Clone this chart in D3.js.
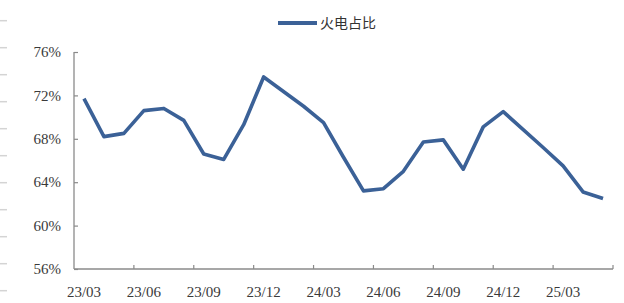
<!DOCTYPE html>
<html>
<head>
<meta charset="utf-8">
<script src="https://cdn.jsdelivr.net/npm/d3@7"></script>
<style>
body { margin: 0; background: #fff; }
svg { display: block; }
</style>
</head>
<body>
<div id="chart"></div>
<script>
// monthly thermal power share (%), Jan not published (Jan-Feb combined)
var months = ["23/03","23/04","23/05","23/06","23/07","23/08","23/09","23/10","23/11","23/12",
	"24/01","24/02","24/03","24/04","24/05","24/06","24/07","24/08","24/09","24/10","24/11","24/12",
	"25/01","25/02","25/03","25/04","25/05"];
var share = [71.7, 68.2, 68.5, 70.6, 70.8, 69.7, 66.6, 66.1, 69.3, 73.7,
	null, 71.0, 69.5, 66.3, 63.2, 63.4, 65.0, 67.7, 67.9, 65.2, 69.1, 70.5,
	null, 67.2, 65.5, 63.1, 62.5];
var yTicks = [56, 60, 64, 68, 72, 76];
var seriesName = "火电占比";

var svgWidth = 624, svgHeight = 303;
var margin = {left: 74, right: 11, top: 52, bottom: 34};
var width = svgWidth - margin.left - margin.right;
var height = svgHeight - margin.top - margin.bottom;
var axisColor = "#8a8a8a";
var lineColor = "#3b6197";
var serif = "'Liberation Serif', 'Times New Roman', 'DejaVu Serif', serif";

var svg = d3.select("#chart").append("svg")
	.attr("width", svgWidth)
	.attr("height", svgHeight);

// faint page marks on the left edge
var marks = d3.range(11);
svg.append("g").selectAll("line")
	.data(marks)
	.enter()
	.append("line")
	.attr("x1", 0).attr("x2", 7)
	.attr("y1", d => 20.7 + d * 27).attr("y2", d => 20.7 + d * 27)
	.attr("stroke", "#d4d4d4")
	.attr("stroke-width", 1.5);

var chartGroup = svg.append("g")
	.attr("transform", `translate(${margin.left}, ${margin.top})`);

var xScale = d3.scaleBand()
	.domain(months)
	.range([0, width])
	.padding(0);

var yScale = d3.scaleLinear()
	.domain([56, 76])
	.range([height, 0]);

// y axis
var yAxis = d3.axisRight(yScale)
	.tickValues(yTicks)
	.tickSize(4)
	.tickFormat("");
var yG = chartGroup.append("g").call(yAxis);
yG.select(".domain").attr("stroke", axisColor).attr("stroke-width", 1.3).attr("d", `M0,0V${height}`);
yG.selectAll(".tick line").attr("stroke", axisColor).attr("stroke-width", 1.2);

chartGroup.append("g").selectAll("text")
	.data(yTicks)
	.enter()
	.append("text")
	.style("font-family", serif)
	.style("font-size", "15px")
	.style("fill", "#3a3a3a")
	.attr("x", -13)
	.attr("y", d => yScale(d))
	.attr("dy", "0.35em")
	.attr("text-anchor", "end")
	.text(d => d + "%");

// x axis: tick marks on category boundaries every 3 months
var bounds = months.filter((d, i) => i % 3 == 0).slice(1).map(d => xScale(d)).concat([width]);
var xG = chartGroup.append("g").attr("transform", `translate(0, ${height})`);
xG.append("line")
	.attr("x1", 0).attr("x2", width)
	.attr("stroke", axisColor).attr("stroke-width", 1.3);
xG.selectAll(".tk")
	.data(bounds)
	.enter()
	.append("line")
	.attr("class", "tk")
	.attr("x1", d => d).attr("x2", d => d)
	.attr("y1", 0).attr("y2", -4)
	.attr("stroke", axisColor).attr("stroke-width", 1.2);

var xAxis = d3.axisBottom(xScale)
	.tickValues(months.filter((d, i) => i % 3 == 0))
	.tickSize(0)
	.tickPadding(17);
var xl = chartGroup.append("g")
	.attr("transform", `translate(0, ${height})`)
	.call(xAxis);
xl.select(".domain").remove();
xl.selectAll("text")
	.style("font-family", serif)
	.style("font-size", "15px")
	.style("fill", "#3a3a3a");

// series line
var data = months.map((m, i) => ({month: m, value: share[i]})).filter(d => d.value != null);
var drawLine = d3.line()
	.x(d => xScale(d.month) + xScale.bandwidth() / 2)
	.y(d => yScale(d.value));

chartGroup.append("path")
	.datum(data)
	.attr("d", drawLine)
	.attr("fill", "none")
	.attr("stroke", lineColor)
	.attr("stroke-width", 3.6)
	.attr("stroke-linejoin", "round");

// legend
var legend = svg.append("g");
legend.append("line")
	.attr("x1", 278).attr("x2", 317)
	.attr("y1", 23).attr("y2", 23)
	.attr("stroke", lineColor)
	.attr("stroke-width", 4);
legend.append("text")
	.attr("x", 320)
	.attr("y", 23)
	.attr("dy", "0.36em")
	.attr("font-family", "'Noto Sans CJK SC', sans-serif")
	.attr("font-size", 14)
	.attr("fill", "#333")
	.text(seriesName);
</script>
</body>
</html>
